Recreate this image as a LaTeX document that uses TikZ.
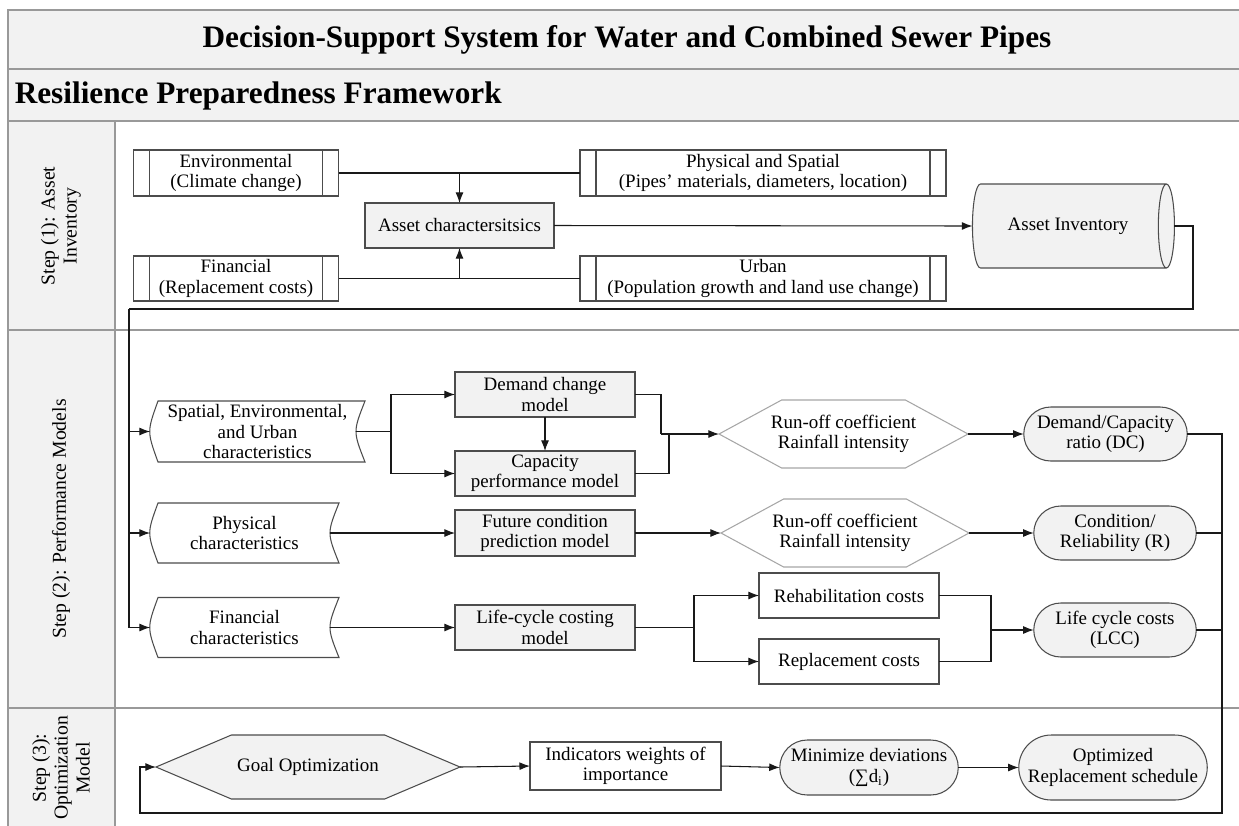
\documentclass[tikz,border=0pt]{standalone}
\usepackage{fontspec}
\setmainfont{Liberation Serif}
\usetikzlibrary{arrows.meta,shapes.geometric,shapes.misc,shapes.symbols}
\newcommand\px{0.02cm}

\begin{document}
\begin{tikzpicture}[x=0.02cm, y=-0.02cm,
		font=\fontsize{10.8}{11.6}\selectfont,
		every node/.style={align=center, inner sep=1pt, outer sep=0pt},
		sz/.style 2 args={minimum width=#1*\px, minimum height=#2*\px},
		frame/.style={draw=black!40, line width=1pt},
		ln/.style={black!90, line width=0.6pt},
		arr/.style={-{Latex[length=6pt,width=4.5pt]}},
		proc/.style={rectangle, draw=black!70, fill=gray!10, line width=0.6pt},
		plain/.style={rectangle, draw=black!70, fill=white, line width=0.6pt},
		predef/.style={plain, path picture={
			\draw[black!70, line width=0.6pt] ([xshift=16*\px]path picture bounding box.north west) -- ([xshift=16*\px]path picture bounding box.south west)
				([xshift=-16*\px]path picture bounding box.north east) -- ([xshift=-16*\px]path picture bounding box.south east);}},
		stored/.style={rectangle},
		hexa/.style={signal, signal to=east and west, signal pointer angle=#1, inner xsep=-12*\px, line width=0.6pt},
		pill/.style={rounded rectangle, draw=black!70, fill=gray!10, line width=0.6pt},
		steplabel/.style={rotate=90, font=\fontsize{11.2}{12.5}\selectfont}]

	\useasboundingbox (0,0) rectangle (1239,825);

	% frame
	\fill[gray!10] (8,10) rectangle (1245,121);
	\fill[gray!10] (8,121) rectangle (115,830);
	\draw[frame] (1245,10) -- (8,10) -- (8,830);
	\draw[frame] (8,69) -- (1245,69) (8,121) -- (1245,121) (8,330) -- (1245,330)
		(8,708) -- (1245,708) (115,121) -- (115,830);

	\node[font=\bfseries\fontsize{17.8}{21}\selectfont] (title) at (627,40) {Decision-Support System for Water and Combined Sewer Pipes};
	\node[anchor=west, font=\bfseries\fontsize{17.8}{21}\selectfont] (sub) at (13,96) {Resilience Preparedness Framework};

	\node[steplabel] (s1) at (61,226) {Step (1): Asset\\Inventory};
	\node[steplabel] (s2) at (61,519) {Step (2): Performance Models};
	\node[steplabel] (s3) at (61,768) {Step (3):\\Optimization\\Model};

	% step 1
	\node[predef, sz={205}{46}] (env) at (236,173) {Environmental\\(Climate change)};
	\node[predef, sz={366}{46}] (phys) at (763,173) {Physical and Spatial\\(Pipes’ materials, diameters, location)};
	\node[predef, sz={205}{45}] (fin) at (236,278.5) {Financial\\(Replacement costs)};
	\node[predef, sz={366}{45}] (urb) at (763,278.5) {Urban\\(Population growth and land use change)};
	\node[proc, sz={189}{45}] (asset) at (459.5,225.5) {Asset charactersitsics};
	\node[cylinder, draw=black!70, line width=0.6pt, cylinder uses custom fill, cylinder body fill=gray!10,
		cylinder end fill=gray!10, shape aspect=0.8, sz={84}{202}] (inv) at (1068,226) {Asset Inventory};

	\draw[ln] (env.east) -- (phys.west);
	\draw[ln,arr] (asset.north |- env.east) -- (asset.north);
	\draw[ln] (fin.east) -- (urb.west);
	\draw[ln,arr] (asset.south |- fin.east) -- (asset.south);
	\draw[ln,arr] (asset.east) -- (inv.west);

	% step 2
	\node[stored, sz={215}{61}] (spat) at (257.5,431.5) {Spatial, Environmental,\\and Urban\\characteristics};
	\node[stored, sz={189}{60}] (physc) at (244.5,533) {Physical\\characteristics};
	\node[stored, sz={189}{60}] (finc) at (244.5,627.5) {Financial\\characteristics};
	\foreach \n in {spat,physc,finc}
		\draw[black!70, line width=0.6pt] ([xshift=8*\px]\n.north west) -- (\n.north east)
			.. controls ([xshift=-12*\px]\n.east) .. (\n.south east) -- ([xshift=8*\px]\n.south west)
			.. controls ([xshift=-3*\px]\n.west) .. ([xshift=8*\px]\n.north west) -- cycle;

	\node[proc, sz={180}{45}] (dem) at (545,394.5) {Demand change\\model};
	\node[proc, sz={180}{45}] (cap) at (545,473.5) {Capacity\\performance model};
	\node[proc, sz={180}{46}] (fut) at (545,533) {Future condition\\prediction model};
	\node[proc, sz={180}{45}] (lcm) at (545,627.5) {Life-cycle costing\\model};
	\node[hexa=57, draw=black!35, fill=white, sz={249}{68}] (hexa) at (843.5,434) {Run-off coefficient\\Rainfall intensity};
	\node[hexa=57, draw=black!35, fill=white, sz={248}{68}] (hexb) at (845,533) {Run-off coefficient\\Rainfall intensity};
	\node[pill, sz={167}{54}] (dc) at (1105.5,434) {Demand/Capacity\\ratio (DC)};
	\node[pill, sz={166}{54}] (cond) at (1115,533) {Condition/\\Reliability (R)};
	\node[plain, sz={180}{45}] (rehab) at (849,595.5) {Rehabilitation costs};
	\node[plain, sz={180}{45}] (repl) at (849,661.5) {Replacement costs};
	\node[pill, sz={166}{54}] (lcc) at (1115,630) {Life cycle costs\\(LCC)};

	\coordinate (r1) at (1193,309);
	\coordinate (l1) at (129,309);
	\coordinate (b1) at (391,431.5);
	\coordinate (m1) at (661,434);
	\coordinate (m2) at (669,434);
	\coordinate (b2) at (694,627.5);
	\coordinate (m3) at (991,630);
	\coordinate (r2) at (1222,434);
	\coordinate (r3) at (1222,813);
	\coordinate (l2) at (140,813);

	\draw[ln] (inv.east) -| (r1) -- (l1);
	\draw[ln,arr] (l1) |- (finc.west);
	\draw[ln,arr] (l1 |- spat.west) -- (spat.west);
	\draw[ln,arr] (l1 |- physc.west) -- (physc.west);

	\draw[ln] ([xshift=-9*\px]spat.east) -- (b1);
	\draw[ln,arr] (b1) |- (dem.west);
	\draw[ln,arr] (b1) |- (cap.west);
	\draw[ln,arr] (dem.south) -- (cap.north);
	\draw[ln] (dem.east) -| (m1);
	\draw[ln] (cap.east) -| (m2);
	\draw[ln,arr] (m1) -- (hexa.west);
	\draw[ln,arr] (hexa.east) -- (dc.west);

	\draw[ln,arr] ([xshift=-9*\px]physc.east) -- (fut.west);
	\draw[ln,arr] (fut.east) -- (hexb.west);
	\draw[ln,arr] (hexb.east) -- (cond.west);

	\draw[ln,arr] ([xshift=-9*\px]finc.east) -- (lcm.west);
	\draw[ln] (lcm.east) -- (b2);
	\draw[ln,arr] (b2) |- (rehab.west);
	\draw[ln,arr] (b2) |- (repl.west);
	\draw[ln] (rehab.east) -| (m3);
	\draw[ln] (repl.east) -| (m3);
	\draw[ln,arr] (m3) -- (lcc.west);

	\draw[ln] (cond.east) -- (r2 |- cond.east);
	\draw[ln] (lcc.east) -- (r2 |- lcc.east);

	% step 3
	\node[hexa=46, draw=black!70, fill=gray!10, sz={304}{64}] (goal) at (308,767) {Goal Optimization};
	\node[plain, sz={191}{48}] (ind) at (625.5,766) {Indicators weights of\\importance};
	\node[pill, sz={182}{55}] (mini) at (869,767.5) {Minimize deviations\\(∑d\textsubscript{i})};
	\node[pill, sz={192}{65}] (opt) at (1113,767.5) {Optimized\\Replacement schedule};

	\draw[ln,arr] (dc.east) -- (r2) -- (r3) -- (l2) |- (goal.west);
	\draw[ln,arr] (goal.east) -- (ind.west);
	\draw[ln,arr] (ind.east) -- (mini.west);
	\draw[ln,arr] (mini.east) -- (opt.west);
\end{tikzpicture}
\end{document}
